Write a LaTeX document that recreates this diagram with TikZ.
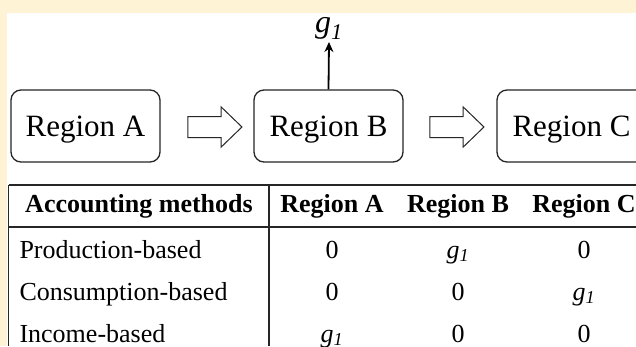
\documentclass[tikz,border=0pt]{standalone}
\usepackage{fontspec}
\setmainfont{Liberation Serif}
\usetikzlibrary{arrows.meta,positioning,shapes.arrows}
\definecolor{bgCream}{HTML}{FFF3D6}
\definecolor{lineGray}{HTML}{262626}
\newcommand{\gsub}{\textit{g}\textsubscript{\textit{1}}}

\begin{document}
\begin{tikzpicture}[x=1pt,y=-1pt,>=Stealth,
  region/.style={draw=lineGray,line width=1.3pt,rounded corners=10pt,
    minimum width=149pt,minimum height=72pt,text depth=0pt,
    font=\fontsize{31}{36}\selectfont},
  flow/.style={single arrow,draw=lineGray,line width=1pt,inner xsep=0pt,
    inner ysep=10pt,minimum height=54pt,single arrow head extend=9.5pt,
    single arrow tip angle=88},
  cell/.style={anchor=base,font=\fontsize{26}{30}\selectfont},
  head/.style={anchor=base,font=\fontsize{26}{30}\selectfont\bfseries},
  rule/.style={line width=1.6pt,lineGray}]
% frame
\fill[bgCream] (0,0) rectangle (636,346);
\fill[white] (7,13) rectangle (636,346);
\clip (0,0) rectangle (636,346);
% regions and flows
\node[region] (rA) at (85.5,126) {Region A};
\node[region] (rB) at (328.5,126) {Region B};
\node[region] (rC) at (571.5,126) {Region C};
\node[flow] (fAB) at (209.5,127) {};
\node[flow] (fBC) at (451.5,127) {};
% output of region B
\node[font=\fontsize{32}{36}\selectfont,inner sep=2pt,anchor=south] (gOut) at (329,42) {\gsub};
\draw[->,line width=1.8pt,>={Stealth[length=10pt,width=9pt]}] (rB.north) -- (gOut.south);
% table rules
\draw[rule] (8.5,185) -- (636,185);
\draw[rule] (8.5,227) -- (636,227);
\draw[rule] (8.5,185) -- (8.5,346);
\draw[rule] (269,185) -- (269,346);
% header
\node[head] (hM) at (139,212) {Accounting methods};
\node[head] (hA) at (332,212) {Region A};
\node[head] (hB) at (458,212) {Region B};
\node[head] (hC) at (584,212) {Region C};
% rows
\foreach \lab/\va/\vb/\vc [count=\i] in
  {Production-based/0/\gsub/0,Consumption-based/0/0/\gsub,Income-based/\gsub/0/0}{
  \node[cell,anchor=base west] (m\i) at (16,216+42*\i) {\lab};
  \node[cell] (a\i) at (332,216+42*\i) {\va};
  \node[cell] (b\i) at (458,216+42*\i) {\vb};
  \node[cell] (c\i) at (584,216+42*\i) {\vc};
}
\end{tikzpicture}
\end{document}
